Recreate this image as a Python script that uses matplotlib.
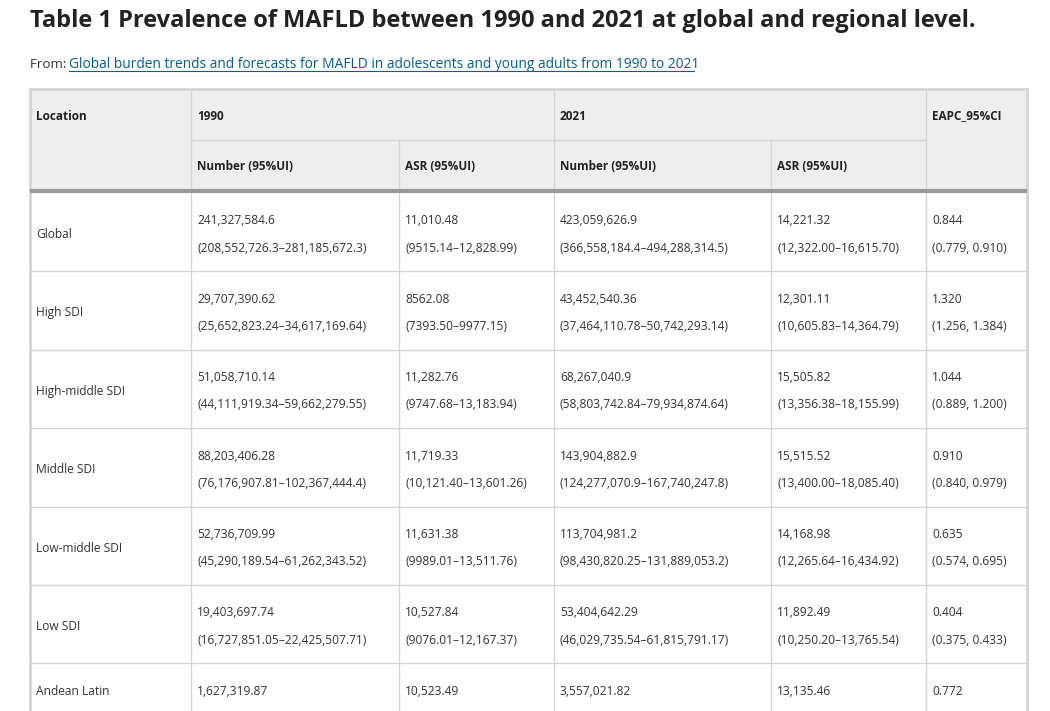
import matplotlib
matplotlib.use("Agg")
import matplotlib.pyplot as plt

plt.rcParams['font.family'] = ['Open Sans', 'DejaVu Sans']

title = "Table 1 Prevalence of MAFLD between 1990 and 2021 at global and regional level."
source_link = "Global burden trends and forecasts for MAFLD in adolescents and young adults from 1990 to 2021"

locations = ["Global", "High SDI", "High-middle SDI", "Middle SDI",
             "Low-middle SDI", "Low SDI", "Andean Latin"]
num_1990 = ["241,327,584.6", "29,707,390.62", "51,058,710.14", "88,203,406.28",
            "52,736,709.99", "19,403,697.74", "1,627,319.87"]
num_1990_ui = ["(208,552,726.3\u2013281,185,672.3)", "(25,652,823.24\u201334,617,169.64)",
               "(44,111,919.34\u201359,662,279.55)", "(76,176,907.81\u2013102,367,444.4)",
               "(45,290,189.54\u201361,262,343.52)", "(16,727,851.05\u201322,425,507.71)", None]
asr_1990 = ["11,010.48", "8562.08", "11,282.76", "11,719.33", "11,631.38", "10,527.84", "10,523.49"]
asr_1990_ui = ["(9515.14\u201312,828.99)", "(7393.50\u20139977.15)", "(9747.68\u201313,183.94)",
               "(10,121.40\u201313,601.26)", "(9989.01\u201313,511.76)", "(9076.01\u201312,167.37)", None]
num_2021 = ["423,059,626.9", "43,452,540.36", "68,267,040.9", "143,904,882.9",
            "113,704,981.2", "53,404,642.29", "3,557,021.82"]
num_2021_ui = ["(366,558,184.4\u2013494,288,314.5)", "(37,464,110.78\u201350,742,293.14)",
               "(58,803,742.84\u201379,934,874.64)", "(124,277,070.9\u2013167,740,247.8)",
               "(98,430,820.25\u2013131,889,053.2)", "(46,029,735.54\u201361,815,791.17)", None]
asr_2021 = ["14,221.32", "12,301.11", "15,505.82", "15,515.52", "14,168.98", "11,892.49", "13,135.46"]
asr_2021_ui = ["(12,322.00\u201316,615.70)", "(10,605.83\u201314,364.79)", "(13,356.38\u201318,155.99)",
               "(13,400.00\u201318,085.40)", "(12,265.64\u201316,434.92)", "(10,250.20\u201313,765.54)", None]
eapc = ["0.844", "1.320", "1.044", "0.910", "0.635", "0.404", "0.772"]
eapc_ci = ["(0.779, 0.910)", "(1.256, 1.384)", "(0.889, 1.200)", "(0.840, 0.979)",
           "(0.574, 0.695)", "(0.375, 0.433)", None]

fig = plt.figure(figsize=(10.5, 7.11), dpi=100)
ax = fig.add_axes([0, 0, 1, 1])
ax.set_xlim(0, 1050)
ax.set_ylim(711, 0)
ax.axis("off")

# page texts
ax.text(30, 21, title, fontsize=17.0, fontweight="bold", color="#222222", va="center")
ax.text(30, 64, "From: ", fontsize=9.6, color="#333333", va="center")
ax.text(69, 64, source_link, fontsize=9.9, color="#025e8d", va="center")
ax.plot([69, 694], [71, 71], color="#025e8d", lw=0.8)

# table geometry
left, right, top = 30, 1027, 89
h1, h2 = 140, 191
row_h = 78.4
bottom = 711

grid = "#d5d5d5"
ax.add_patch(plt.Rectangle((left, top), right - left, h2 - top, color="#eeeeee", lw=0))

# header lines
ax.plot([191, 926], [h1, h1], color=grid, lw=1)
for x in [191, 554, 926]:
    ax.plot([x, x], [top, bottom], color=grid, lw=1)
for x in [399, 771]:
    ax.plot([x, x], [h1, bottom], color=grid, lw=1)
ax.plot([left, right], [top, top], color=grid, lw=2)
ax.plot([left, left], [top, bottom], color=grid, lw=2)
ax.plot([right, right], [top, bottom], color=grid, lw=2)
ax.plot([left, right], [h2, h2], color="#999999", lw=3, solid_capstyle="butt")

hdr = dict(fontsize=8.5, fontweight="bold", color="#222222", va="center")
ax.text(36, 116, "Location", **hdr)
ax.text(197, 116, "1990", **hdr)
ax.text(560, 116, "2021", **hdr)
ax.text(932, 116, "EAPC_95%CI", **hdr)
for x, lab in zip([197, 405, 560, 777],
                  ["Number (95%UI)", "ASR (95%UI)", "Number (95%UI)", "ASR (95%UI)"]):
    ax.text(x, 167, lab, **hdr)

body = dict(fontsize=8.65, color="#333333", va="center")
row_top = 193
for i, loc in enumerate(locations):
    y0 = row_top + i * row_h
    if i > 0:
        ax.plot([left, right], [y0, y0], color=grid, lw=1)
    first = y0 + 28
    second = y0 + 55
    two_lines = num_1990_ui[i] is not None
    ax.text(36, (first + second) / 2 if two_lines else first, loc, **body)
    cells = [(num_1990, num_1990_ui), (asr_1990, asr_1990_ui), (num_2021, num_2021_ui),
             (asr_2021, asr_2021_ui), (eapc, eapc_ci)]
    for x, (main, sub) in zip([197, 405, 560, 777, 932], cells):
        ax.text(x, first, main[i], **body)
        if sub[i] is not None:
            ax.text(x, second, sub[i], **body)

fig.savefig("out.png", dpi=100)
